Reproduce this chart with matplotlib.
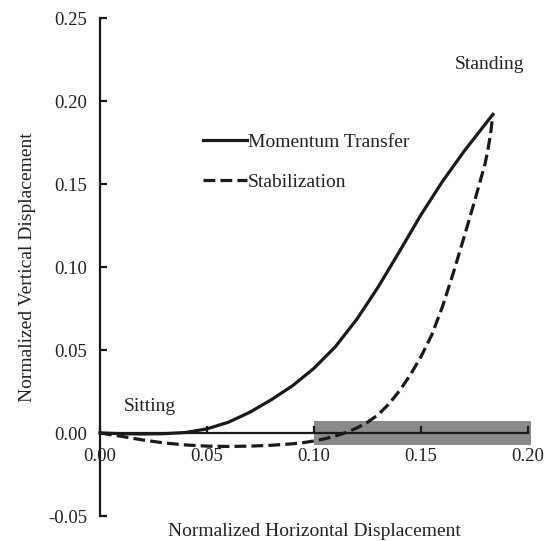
import matplotlib
matplotlib.use('Agg')
import matplotlib.pyplot as plt
from matplotlib.patches import Rectangle

plt.rcParams['font.family'] = ['Liberation Serif', 'DejaVu Serif']

# trajectories of the body centre, normalized by body height
momentum_x = [0.000, 0.010, 0.020, 0.030, 0.040, 0.050, 0.060, 0.070, 0.080, 0.090,
              0.100, 0.110, 0.120, 0.130, 0.140, 0.150, 0.160, 0.170, 0.1836]
momentum_y = [0.000, -0.0004, -0.0006, -0.0004, 0.0003, 0.0025, 0.0065, 0.0125, 0.0200, 0.0285,
              0.0390, 0.0520, 0.0685, 0.0880, 0.1095, 0.1315, 0.1515, 0.1695, 0.1920]

stabil_x = [0.000, 0.010, 0.020, 0.030, 0.040, 0.050, 0.060, 0.070, 0.080, 0.090,
            0.095, 0.100, 0.105, 0.110, 0.115, 0.120, 0.125, 0.130, 0.135, 0.140,
            0.145, 0.150, 0.155, 0.160, 0.165, 0.170, 0.175, 0.180, 0.1813, 0.1825, 0.1836]
stabil_y = [0.000, -0.0020, -0.0042, -0.0060, -0.0072, -0.0079, -0.0081, -0.0079, -0.0074, -0.0065,
            -0.0058, -0.0048, -0.0035, -0.0018, 0.0003, 0.0030, 0.0065, 0.0110, 0.0175, 0.0255,
            0.0350, 0.0460, 0.0590, 0.0760, 0.0960, 0.1175, 0.1395, 0.1625, 0.1710, 0.1800, 0.1920]

band_x = (0.10, 0.2015)
band_y = (-0.007, 0.007)

x_ticks = [0.00, 0.05, 0.10, 0.15, 0.20]
y_ticks = [-0.05, 0.00, 0.05, 0.10, 0.15, 0.20, 0.25]

fig = plt.figure(figsize=(5.50, 5.41), dpi=100)
ax = fig.add_axes([0.1818, 0.0462, 0.96 - 0.1818, 0.9667 - 0.0462])

ax.add_patch(Rectangle((band_x[0], band_y[0]), band_x[1] - band_x[0], band_y[1] - band_y[0],
                       facecolor='#8a8a8b', edgecolor='none', zorder=1, clip_on=False))

ax.plot(momentum_x, momentum_y, color='#1a1a1a', lw=2.3, label='Momentum Transfer',
        zorder=3, clip_on=False, solid_joinstyle='round')
ax.plot(stabil_x, stabil_y, color='#1a1a1a', lw=2.3, linestyle=(0, (3.7, 1.6)),
        label='Stabilization', zorder=3, clip_on=False)

ax.set_xlim(0, 0.20)
ax.set_ylim(-0.05, 0.25)
ax.set_xticks(x_ticks)
ax.set_yticks(y_ticks)
ax.set_xticklabels([f'{v:.2f}' for v in x_ticks])
ax.set_yticklabels([f'{v:.2f}' for v in y_ticks])

for side in ['top', 'right']:
    ax.spines[side].set_visible(False)
ax.spines['bottom'].set_position(('data', 0))
ax.spines['left'].set_linewidth(1.6)
ax.spines['bottom'].set_linewidth(1.6)
for sp in ax.spines.values():
    sp.set_color('#1a1a1a')
    sp.set_zorder(2)

ax.tick_params(axis='both', direction='in', length=5, width=1.6, colors='#1a1a1a',
               labelsize=13.5, labelcolor='#222222')
ax.tick_params(axis='x', pad=11)
ax.tick_params(axis='y', pad=9)

ax.set_xlabel('Normalized Horizontal Displacement', fontsize=14, color='#222222')
ax.xaxis.set_label_coords(0.5, -0.014)
ax.set_ylabel('Normalized Vertical Displacement', fontsize=14, color='#222222')
ax.yaxis.set_label_coords(-0.15, 0.5)

ax.text(0.0112, 0.0157, 'Sitting', fontsize=14, color='#222222', va='center', ha='left')
ax.text(0.166, 0.222, 'Standing', fontsize=14, color='#222222', va='center', ha='left')

ax.legend(loc='upper left', bbox_to_anchor=(0.222, 0.784), frameon=False,
          handlelength=2.26, handletextpad=0.05, labelspacing=1.15, fontsize=14,
          borderaxespad=0, labelcolor='#222222')

fig.savefig('out.png', dpi=100)
